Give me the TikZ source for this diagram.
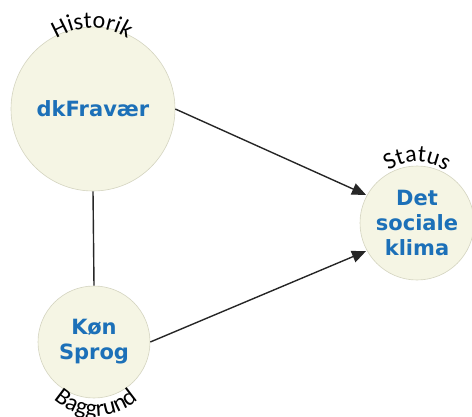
\documentclass[tikz,border=0pt]{standalone}
\usepackage{fontspec}
\usetikzlibrary{arrows.meta,decorations.text}
\newfontfamily\labelfont{Carlito}
\newfontfamily\nodefont{DejaVu Sans}
\definecolor{circfill}{RGB}{245,245,228}
\definecolor{circline}{RGB}{212,212,192}
\definecolor{nodeblue}{RGB}{28,112,184}
\tikzset{
  circ/.style={circle, draw=circline, fill=circfill, line width=0.6pt, inner sep=0pt,
    align=center, text=nodeblue, font=\nodefont\bfseries\fontsize{21}{25}\selectfont},
  conn/.style={line width=1.4pt, draw=black!85},
  arr/.style={conn, -{Triangle[length=14pt,width=12pt]}, shorten >=1pt},
  arclabel/.style={decorate, decoration={text along path, text align=center,
    text={|\labelfont\fontsize{24}{24}\selectfont|#1}}}
}
\begin{document}
\begin{tikzpicture}[x=1pt,y=1pt]
\useasboundingbox (0,0) rectangle (472,416);
\coordinate (dkc) at (93,307);
\coordinate (konc) at (94,74);
\coordinate (socc) at (417,193);
\node[circ, minimum size=164pt] (dk) at (dkc) {dkFravær};
\node[circ, minimum size=112pt] (kon) at (konc) {Køn\\Sprog};
\node[circ, minimum size=114pt] (soc) at (socc) {Det\\sociale\\klima};
\draw[conn] (dk.south) -- (kon.north);
\draw[arr] (dk.east) -- (soc.151);
\draw[arr] (kon.east) -- (soc.209);
% curved labels, bent a little tighter than the circles they crown
\coordinate (histc) at (92,322);
\coordinate (statc) at (417,204);
\coordinate (bagc) at (96,62);
\path[arclabel={Historik}] (histc) ++(160:66pt) arc[start angle=160, end angle=20, radius=66pt];
\path[arclabel={Status}] (statc) ++(150:50pt) arc[start angle=150, end angle=30, radius=50pt];
\path[arclabel={Baggrund}] (bagc) ++(205:62pt) arc[start angle=205, end angle=335, radius=62pt];
\end{tikzpicture}
\end{document}
